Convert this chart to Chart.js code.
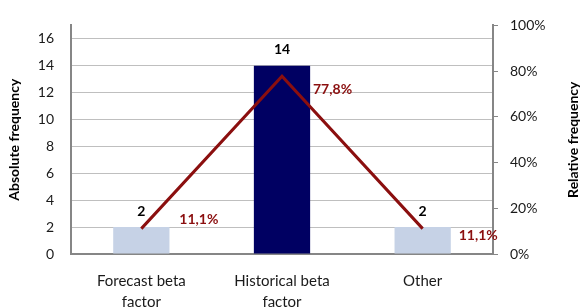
<!DOCTYPE html>
<html>
<head>
<meta charset="utf-8">
<script src="https://cdn.jsdelivr.net/npm/chart.js@4/dist/chart.umd.min.js"></script>
<style>
    html, body { margin: 0; padding: 0; background: #ffffff; }
    #wrap { width: 583px; height: 307px; }
</style>
</head>
<body>
<div id="wrap"><canvas id="freqChart" width="583" height="307"></canvas></div>
<script>
// Chart data
const categories = [['Forecast beta', 'factor'], ['Historical beta', 'factor'], ['Other']];
const absoluteFrequency = [2, 14, 2];
const relativeFrequency = [11.1, 77.8, 11.1];
const leftTicks = [0, 2, 4, 6, 8, 10, 12, 14, 16];
const rightTicks = [0, 20, 40, 60, 80, 100];

const barColors = ['#c6d2e6', '#000062', '#c6d2e6'];
const lineColor = '#8b0f0f';

Chart.defaults.font.family = 'Lato, "Open Sans", sans-serif';
Chart.defaults.color = '#1a1a1a';

/**
 * Value labels above bars and next to line points,
 * plus the right axis title (reads bottom to top like the left one)
 */
const valueLabels = {
    id: 'valueLabels',
    afterDatasetsDraw(chart, args, opts) {
        const ctx = chart.ctx;
        ctx.save();
        ctx.textBaseline = 'middle';

        const barMeta = chart.getDatasetMeta(0);
        ctx.font = 'bold 14px Lato, sans-serif';
        ctx.fillStyle = '#000000';
        ctx.textAlign = 'center';
        barMeta.data.forEach(function(bar, i) {
            ctx.fillText(String(absoluteFrequency[i]), bar.x, bar.y - 16);
        });

        const lineMeta = chart.getDatasetMeta(1);
        ctx.fillStyle = lineColor;
        ctx.textAlign = 'left';
        lineMeta.data.forEach(function(pt, i) {
            const off = opts.offsets[i];
            const txt = relativeFrequency[i].toFixed(1).replace('.', ',') + '%';
            ctx.fillText(txt, pt.x + off[0], pt.y + off[1]);
        });

        ctx.font = 'bold 14px Lato, sans-serif';
        ctx.fillStyle = '#000000';
        ctx.textAlign = 'center';
        const area = chart.chartArea;
        ctx.translate(opts.rightTitleX, (area.top + area.bottom) / 2);
        ctx.rotate(-Math.PI / 2);
        ctx.fillText('Relative frequency', 0, 0);
        ctx.restore();
    }
};

new Chart(document.getElementById('freqChart'), {
    type: 'bar',
    data: {
        labels: categories,
        datasets: [{
            type: 'bar',
            data: absoluteFrequency,
            backgroundColor: barColors,
            yAxisID: 'y',
            barPercentage: 0.4,
            categoryPercentage: 1.0,
            order: 2
        }, {
            type: 'line',
            data: relativeFrequency,
            borderColor: lineColor,
            borderWidth: 3,
            pointRadius: 0,
            tension: 0,
            yAxisID: 'y1',
            order: 1
        }]
    },
    options: {
        responsive: false,
        animation: false,
        layout: { padding: { top: 11, left: 0, right: 0, bottom: 0 } },
        plugins: {
            legend: { display: false },
            tooltip: { enabled: false },
            valueLabels: {
                offsets: [[38, -9], [31, 13], [36, 7]],
                rightTitleX: 573
            }
        },
        scales: {
            x: {
                grid: { display: false, drawTicks: false },
                border: { display: true, color: '#868686', width: 2 },
                ticks: {
                    padding: 17,
                    color: '#1a1a1a',
                    font: { size: 15, lineHeight: 1.4 },
                    maxRotation: 0
                },
                afterFit: function(scale) { scale.height = 53; }
            },
            y: {
                position: 'left',
                min: 0,
                max: 17,
                afterBuildTicks: function(scale) {
                    scale.ticks = leftTicks.map(function(v) { return { value: v }; });
                },
                ticks: { padding: 17, color: '#1a1a1a', font: { size: 14 } },
                grid: { color: '#bfbfbf', lineWidth: 1, drawTicks: false },
                border: { display: true, color: '#868686', width: 2 },
                title: {
                    display: true,
                    text: 'Absolute frequency',
                    color: '#000000',
                    font: { size: 14, weight: 'bold' },
                    padding: { top: 6, bottom: 0 }
                },
                afterFit: function(scale) { scale.width = 71; }
            },
            y1: {
                position: 'right',
                min: 0,
                max: 100,
                afterBuildTicks: function(scale) {
                    scale.ticks = rightTicks.map(function(v) { return { value: v }; });
                },
                ticks: {
                    padding: 12,
                    color: '#1a1a1a',
                    font: { size: 14 },
                    callback: function(value) { return value + '%'; }
                },
                grid: { drawOnChartArea: false, drawTicks: true, tickLength: 5, color: '#868686' },
                border: { display: true, color: '#868686', width: 2 },
                afterFit: function(scale) { scale.width = 90; }
            }
        }
    },
    plugins: [valueLabels]
});
</script>
</body>
</html>
